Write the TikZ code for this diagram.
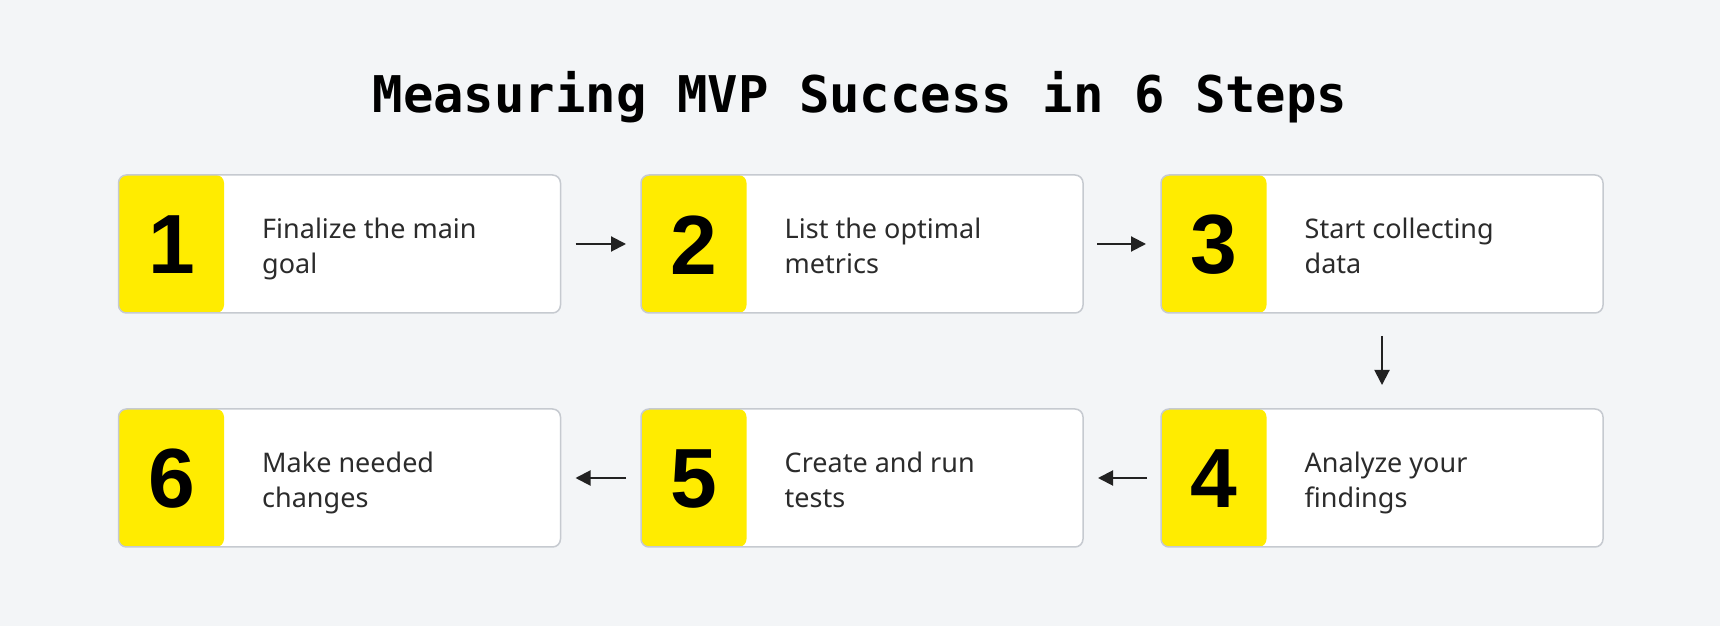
\documentclass[tikz,border=0pt]{standalone}
\usepackage{fontspec}
\setmainfont{Noto Sans}
\newfontfamily\titlefont{DejaVu Sans Mono}
\newfontfamily\digitfont{Liberation Sans}
\usetikzlibrary{arrows.meta}
\definecolor{bgc}{HTML}{F3F5F7}
\definecolor{ylw}{HTML}{FFEC00}
\definecolor{brd}{HTML}{C6CAD0}
\definecolor{ink}{HTML}{222222}
\definecolor{txt}{HTML}{2B2B2B}
\newcommand{\ls}{\strut}
\begin{document}
\begin{tikzpicture}[x=1pt,y=1pt,
  card/.style={draw=brd, line width=1.5pt, fill=white, rounded corners=8pt,
    minimum width=442pt, minimum height=138pt, inner sep=0pt, outer sep=0pt,
    path picture={\fill[ylw] (path picture bounding box.south west) rectangle
      ([xshift=105.5pt]path picture bounding box.north west);}},
  num/.style={inner sep=0pt, font=\digitfont\bfseries\fontsize{84}{84}\selectfont, text=black},
  lbl/.style={anchor=west, inner sep=0pt, align=left, text=txt, yshift=-5.5pt,
    font=\fontsize{27}{35}\selectfont},
  arr/.style={draw=ink, line width=2pt, -{Triangle[length=15pt,width=15pt]}},
  ttl/.style={inner sep=0pt, anchor=base, font=\titlefont\bfseries\fontsize{50.6}{55}\selectfont, text=black}
]
\fill[bgc] (0,0) rectangle (1720,626);
\useasboundingbox (0,0) rectangle (1720,626);

\node[ttl] (title) at (860,513) {Measuring MVP Success in 6 Steps};

% row 1
\node[card] (b1) at (339.5,382) {};
\node[card] (b2) at (862,382) {};
\node[card] (b3) at (1382,382) {};
% row 2
\node[card] (b6) at (339.5,148) {};
\node[card] (b5) at (862,148) {};
\node[card] (b4) at (1382,148) {};

\node[num] (d1) at (171.5,381) {1};
\node[num] (d2) at (694,381) {2};
\node[num] (d3) at (1214,381) {3};
\node[num] (d6) at (171.5,147) {6};
\node[num] (d5) at (694,147) {5};
\node[num] (d4) at (1214,147) {4};

\node[lbl] (t1) at (262,382) {\ls Finalize the main\\\ls goal};
\node[lbl] (t2) at (784.5,382) {\ls List the optimal\\\ls metrics};
\node[lbl] (t3) at (1304.5,382) {\ls Start collecting\\\ls data};
\node[lbl] (t6) at (262,148) {\ls Make needed\\\ls changes};
\node[lbl] (t5) at (784.5,148) {\ls Create and run\\\ls tests};
\node[lbl] (t4) at (1304.5,148) {\ls Analyze your\\\ls findings};

\draw[arr, shorten <=15pt, shorten >=15pt] (b1) -- (b2);
\draw[arr, shorten <=14pt, shorten >=15pt] (b2) -- (b3);
\draw[arr, shorten <=23pt, shorten >=24pt] (b3) -- (b4);
\draw[arr, shorten <=14pt, shorten >=15pt] (b4) -- (b5);
\draw[arr, shorten <=15pt, shorten >=15pt] (b5) -- (b6);
\end{tikzpicture}
\end{document}
